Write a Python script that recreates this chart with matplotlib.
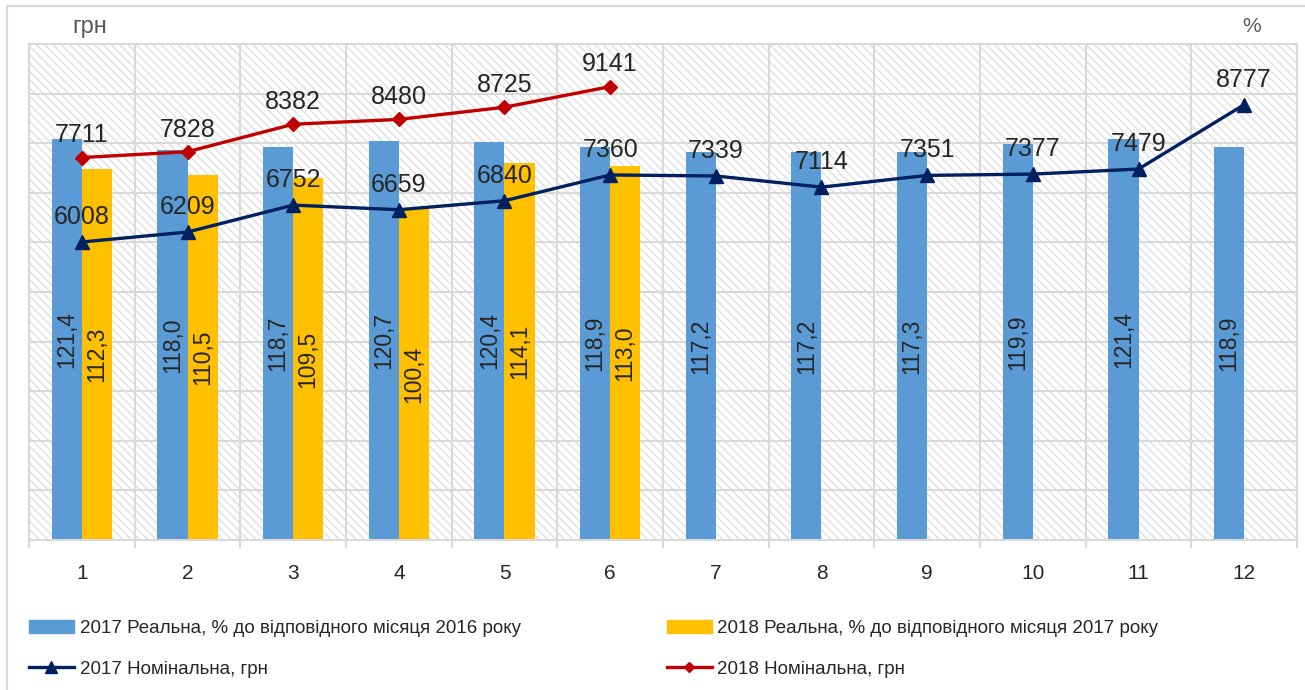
import numpy as np
import matplotlib
matplotlib.use('Agg')
import matplotlib.pyplot as plt
from matplotlib.patches import Rectangle
from matplotlib.lines import Line2D

plt.rcParams['font.family'] = ['Liberation Sans', 'DejaVu Sans']
plt.rcParams['hatch.linewidth'] = 0.8

# ---- дані ----
months = [1, 2, 3, 4, 5, 6, 7, 8, 9, 10, 11, 12]
real_2017 = [121.4, 118.0, 118.7, 120.7, 120.4, 118.9, 117.2, 117.2, 117.3, 119.9, 121.4, 118.9]
real_2018 = [112.3, 110.5, 109.5, 100.4, 114.1, 113.0]
nom_2017 = [6008, 6209, 6752, 6659, 6840, 7360, 7339, 7114, 7351, 7377, 7479, 8777]
nom_2018 = [7711, 7828, 8382, 8480, 8725, 9141]
names = ['2017 Реальна, % до відповідного місяця 2016 року',
         '2018 Реальна, % до відповідного місяця 2017 року',
         '2017 Номінальна, грн',
         '2018 Номінальна, грн']

BLUE = '#5B9BD5'; GOLD = '#FFC000'; NAVY = '#002060'; RED = '#C00000'
GRID = '#D9D9D9'; TXT = '#262626'

fig = plt.figure(figsize=(13.05, 6.9), dpi=100)
ax = fig.add_axes([29/1305, 1-540/690, 1268/1305, 496/690])
ax2 = ax.twinx()

# фон зі штриховкою
ax.add_patch(Rectangle((0, 0), 1, 1, transform=ax.transAxes, facecolor='white',
                       edgecolor=GRID, hatch='\\\\\\\\', lw=0, zorder=0.1))

x = np.array(months, dtype=float)
w = 0.284
b1 = ax.bar(x - w/2, real_2017, w, color=BLUE, zorder=2)
b2 = ax.bar(x[:len(real_2018)] + w/2, real_2018, w, color=GOLD, zorder=2)
for bars, vals in ((b1, real_2017), (b2, real_2018)):
    for r, v in zip(bars, vals):
        ax.text(r.get_x() + r.get_width()/2, v/2, f'{v:.1f}'.replace('.', ','),
                rotation=90, ha='center', va='center', fontsize=16.5, color=TXT, zorder=3)

ax.set_xlim(0.5, 12.5)
ax.set_ylim(0, 150)
ax.set_yticks(np.arange(0, 151, 15))
ax.set_yticklabels([])
ax.tick_params(axis='y', length=0)
ax.set_xticks(np.arange(0.5, 12.6, 1))
ax.set_xticklabels([])
ax.set_xticks(x, minor=True)
ax.set_xticklabels([str(m) for m in months], minor=True, fontsize=15, color=TXT)
ax.tick_params(axis='x', which='major', length=6, color=GRID, width=1.5)
ax.tick_params(axis='x', which='minor', length=0, pad=17)
ax.grid(True, which='major', color=GRID, lw=1.5, zorder=0.5)
ax.set_axisbelow(True)
for s in ax.spines.values():
    s.set_color(GRID); s.set_linewidth(1.5)

# лінії номінальної зарплати
ax2.plot(x, nom_2017, color=NAVY, lw=2.4, marker='^', ms=10, zorder=4)
ax2.plot(x[:len(nom_2018)], nom_2018, color=RED, lw=2.4, marker='D', ms=7, zorder=4)
for xi, v in zip(x, nom_2017):
    ax2.annotate(str(v), (xi, v), xytext=(0, 18), textcoords='offset points',
                 ha='center', va='center', fontsize=18, color=TXT)
for xi, v in zip(x, nom_2018):
    ax2.annotate(str(v), (xi, v), xytext=(0, 16), textcoords='offset points',
                 ha='center', va='center', fontsize=18, color=TXT)
ax2.set_ylim(0, 10000)
ax2.set_yticks([])
for s in ax2.spines.values():
    s.set_visible(False)

fig.text(90/1305, 1-27/690, 'грн', ha='center', va='center', fontsize=17, color='#595959')
fig.text(1252/1305, 1-27/690, '%', ha='center', va='center', fontsize=15, color='#595959')

handles = [Rectangle((0, 0), 1, 1, color=BLUE),
           Line2D([], [], color=NAVY, lw=2.4, marker='^', ms=8),
           Rectangle((0, 0), 1, 1, color=GOLD),
           Line2D([], [], color=RED, lw=2.4, marker='D', ms=5)]
labels = [names[0], names[2], names[1], names[3]]
fig.legend(handles, labels, ncol=2, loc='upper left', bbox_to_anchor=(12/1305, 1-603/690),
           frameon=False, fontsize=13.5, handlelength=2.4, handletextpad=0.3,
           columnspacing=7.8, labelspacing=1.25, labelcolor=TXT)

# рамка діаграми
fig.patches.append(Rectangle((7/1305, -0.2), 1.2, 1.2-6/690, transform=fig.transFigure,
                             fill=False, edgecolor=GRID, lw=1.5))

fig.savefig('out.png', dpi=100)
